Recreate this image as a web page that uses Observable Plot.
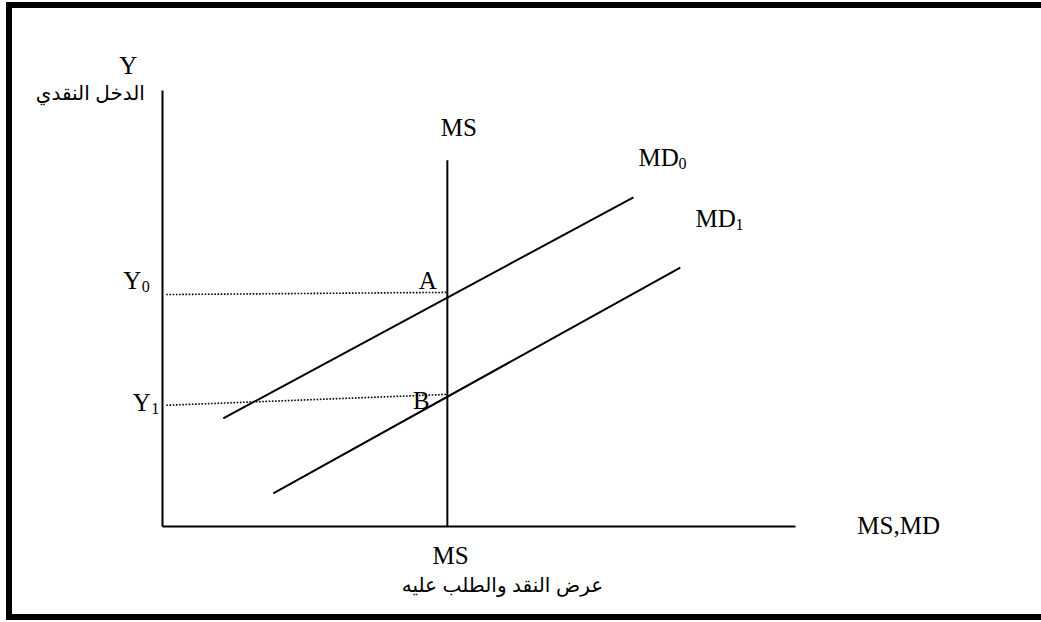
<!DOCTYPE html>
<html><head><meta charset="utf-8">
<script src="https://cdn.jsdelivr.net/npm/d3@7"></script>
<script src="https://cdn.jsdelivr.net/npm/@observablehq/plot@0.6"></script>
<style>
html,body{margin:0;padding:0;background:#fff;overflow:hidden;width:1041px;height:622px;}
#frame{position:absolute;left:6px;top:2px;width:1100px;height:606px;border-top:6px solid #000;border-left:6px solid #000;border-bottom:6px solid #000;}
#chart{position:absolute;left:0;top:0;}
</style></head><body>
<div id="frame"></div><div id="chart"></div>
<script>
// ---- data ----
const axisFromX = [0, 0];
const axisFromY = [0, 0];
const axisToX = [100, 0];
const axisToY = [0, 100];

const demandNames = ["MD0", "MD1"];
const demandStartX = [9.6, 17.5];
const demandStartY = [24.8, 7.6];
const demandEndX = [74.4, 81.8];
const demandEndY = [75.5, 59.4];

const supplyX = [45, 45];
const supplyY = [0, 84];

const levelNames = ["Y0", "Y1"];
const levelStartX = [0.6, 0.6];
const levelEndX = [45, 45];
const levelLeftY = [53.2, 27.8];
const levelRightY = [53.7, 30.3];

const labelText = ["Y", "MS", "A", "B", "MS", "MS,MD"];
const labelX = [-5.4, 46.8, 41.9, 40.9, 45.5, 116.3];
const labelY = [105.7, 91.5, 56.4, 28.7, -6.8, 0.2];

const subBase = ["MD", "MD", "Y", "Y"];
const subIndex = ["0", "1", "0", "1"];
const subX = [75.2, 84.2, -6.2, -4.7];
const subY = [84.6, 70.6, 56.4, 28.4];

const arabicText = ["الدخل النقدي", "عرض النقد والطلب عليه"];
const arabicX = [-11.4, 53.7];
const arabicY = [99.3, -13.5];

// ---- tables ----
const axes = axisFromX.map((d, i) => ({x1: d, y1: axisFromY[i], x2: axisToX[i], y2: axisToY[i]}));
const demand = demandNames.map((n, i) => ({name: n, x1: demandStartX[i], y1: demandStartY[i], x2: demandEndX[i], y2: demandEndY[i]}));
const supply = [{x1: supplyX[0], y1: supplyY[0], x2: supplyX[1], y2: supplyY[1]}];
const levels = levelNames.map((n, i) => ({name: n, x1: levelStartX[i], y1: levelLeftY[i], x2: levelEndX[i], y2: levelRightY[i]}));
const labels = labelText.map((t, i) => ({text: t, x: labelX[i], y: labelY[i]}));
const subs = subBase.map((b, i) => ({base: b, idx: subIndex[i], x: subX[i], y: subY[i]}));
const arabic = arabicText.map((t, i) => ({text: t, x: arabicX[i], y: arabicY[i]}));

const serif = "'Liberation Serif', 'Times New Roman', serif";
const sans = "'Liberation Sans', 'DejaVu Sans', sans-serif";

const chart = Plot.plot({
  width: 1041,
  height: 622,
  marginLeft: 162,
  marginRight: 246,
  marginTop: 90,
  marginBottom: 96,
  x: {domain: [0, 100], axis: null},
  y: {domain: [0, 100], axis: null},
  style: {background: "transparent", overflow: "visible"},
  marks: [
    Plot.link(levels, {x1: "x1", y1: "y1", x2: "x2", y2: "y2", stroke: "#000", strokeWidth: 1.6, strokeDasharray: "1.6,1.6"}),
    Plot.link(axes, {x1: "x1", y1: "y1", x2: "x2", y2: "y2", stroke: "#000", strokeWidth: 2}),
    Plot.link(supply, {x1: "x1", y1: "y1", x2: "x2", y2: "y2", stroke: "#000", strokeWidth: 2}),
    Plot.link(demand, {x1: "x1", y1: "y1", x2: "x2", y2: "y2", stroke: "#000", strokeWidth: 2}),
    Plot.text(labels, {x: "x", y: "y", text: "text", fontSize: 25, fontFamily: serif, fill: "#000"}),
    Plot.text(subs, {x: "x", y: "y", text: "base", textAnchor: "start", fontSize: 25, fontFamily: serif, fill: "#000"}),
    Plot.text(subs.filter(d => d.base === "MD"), {x: "x", y: "y", text: "idx", textAnchor: "start", dx: 40, dy: 6, fontSize: 16, fontFamily: serif, fill: "#000"}),
    Plot.text(subs.filter(d => d.base === "Y"), {x: "x", y: "y", text: "idx", textAnchor: "start", dx: 18.5, dy: 6, fontSize: 16, fontFamily: serif, fill: "#000"}),
    Plot.text(arabic, {x: "x", y: "y", text: "text", fontSize: 20, fontFamily: sans, fill: "#000"})
  ]
});
document.getElementById("chart").appendChild(chart);
</script>
</body></html>
